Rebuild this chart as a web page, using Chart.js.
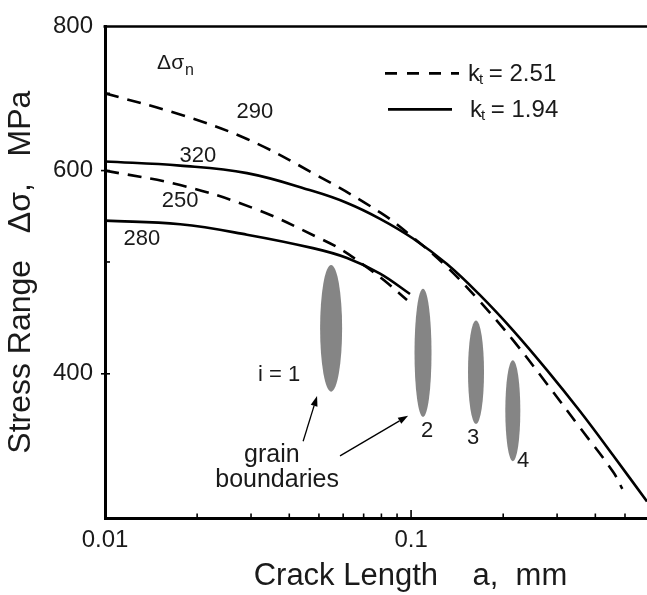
<!DOCTYPE html>
<html>
<head>
<meta charset="utf-8">
<script src="https://cdn.jsdelivr.net/npm/chart.js@4.4.1/dist/chart.umd.min.js"></script>
<style>
html,body{margin:0;padding:0;background:#fff;}
#wrap{width:647px;height:595px;}
</style>
</head>
<body>
<div id="wrap"><canvas id="c" width="647" height="595"></canvas></div>
<script>
// ---------- data ----------
const xTickValues = [0.01,0.02,0.03,0.04,0.05,0.06,0.07,0.08,0.09,0.1,0.2,0.3,0.4,0.5];
const xTickLabels = [0.01, 0.1];
const yTickValues = [300,400,500,600,700,800];
const yTickLabels = [400, 600, 800];

// kt = 2.51, Δσn = 290 (dashed)
const crack_kt251_290  = [0.01,0.0176,0.0291,0.0478,0.0792,0.1015,0.131,0.168,0.215,0.278,0.357,0.457,0.49];
const stress_kt251_290 = [700, 671, 639, 597, 552, 525, 495, 462, 428, 392, 359, 329, 318];
// kt = 1.94, Δσn = 320 (solid)
const crack_kt194_320  = [0.01,0.0176,0.0291,0.0478,0.0618,0.0792,0.1015,0.131,0.168,0.215,0.278,0.357,0.457,0.590];
const stress_kt194_320 = [611, 606, 597, 576, 562.5, 545, 524, 498, 468, 436.5, 403, 371, 340, 310];
// kt = 2.51, Δσn = 250 (dashed)
const crack_kt251_250  = [0.01,0.0176,0.0309,0.0504,0.0595,0.0707,0.0816,0.097];
const stress_kt251_250 = [600, 583, 556, 524, 512, 496, 482, 463.5];
// kt = 1.94, Δσn = 280 (solid)
const crack_kt194_280  = [0.01,0.0176,0.0291,0.0478,0.0618,0.0792,0.0992];
const stress_kt194_280 = [543, 539, 528, 514, 504, 488.5, 469];

// grain boundaries i = 1..4 : crack length, stress top, stress bottom
const grainCrack     = [0.0548, 0.1094, 0.163, 0.215];
const grainStressTop = [497, 474, 445, 411];
const grainStressBot = [386, 367, 362, 336];
const grainNames     = ['i = 1', '2', '3', '4'];

// ---------- styling ----------
const FONT = "'Liberation Sans', Arial, Helvetica, sans-serif";
const INK = '#1a1a1a';
const grainWidthsPx = [22, 17, 16, 15];
const DASH = [14, 9];

function pts(xs, ys){ return xs.map((x,i)=>({x:x, y:ys[i]})); }
function near(v, list){ return list.some(t => Math.abs(t - v) / t < 1e-6); }

const lineBase = { showLine:true, pointRadius:0, borderColor:'#000', borderWidth:2.6,
                   fill:false, tension:0.4 };

const datasets = [
  Object.assign({}, lineBase, { label:'kt=2.51 (290)', data: pts(crack_kt251_290, stress_kt251_290), borderDash: DASH }),
  Object.assign({}, lineBase, { label:'kt=1.94 (320)', data: pts(crack_kt194_320, stress_kt194_320) }),
  Object.assign({}, lineBase, { label:'kt=2.51 (250)', data: pts(crack_kt251_250, stress_kt251_250), borderDash: DASH }),
  Object.assign({}, lineBase, { label:'kt=1.94 (280)', data: pts(crack_kt194_280, stress_kt194_280) })
];

// annotation anchors in data coordinates
const curveLabels = [
  { text:'290', a:0.0309, s:675 },
  { text:'320', a:0.0201, s:618 },
  { text:'250', a:0.0176, s:565 },
  { text:'280', a:0.0132, s:524 }
];
const grainLabelPos = [
  { a:0.0434, s:399, align:'right' },
  { a:0.1128, s:357, align:'center' },
  { a:0.1595, s:352, align:'center' },
  { a:0.2323, s:336, align:'center' }
];
const arrows = [
  { a0:0.0444, s0:349.6, a1:0.0493, s1:382.6 },
  { a0:0.0586, s0:339.6, a1:0.0978, s1:367.9 }
];

const decor = {
  id:'decor',
  beforeDatasetsDraw(chart){
    const ctx = chart.ctx, X = chart.scales.x, Y = chart.scales.y;
    ctx.save();
    ctx.fillStyle = '#858585';
    grainCrack.forEach((a,i)=>{
      const cx = X.getPixelForValue(a);
      const yt = Y.getPixelForValue(grainStressTop[i]);
      const yb = Y.getPixelForValue(grainStressBot[i]);
      ctx.beginPath();
      ctx.ellipse(cx, (yt+yb)/2, grainWidthsPx[i]/2, (yb-yt)/2, 0, 0, Math.PI*2);
      ctx.fill();
    });
    ctx.restore();
  },
  afterDraw(chart){
    const ctx = chart.ctx, X = chart.scales.x, Y = chart.scales.y, ca = chart.chartArea;
    ctx.save();
    // top frame line
    ctx.strokeStyle = '#000'; ctx.lineWidth = 2.5;
    ctx.beginPath(); ctx.moveTo(ca.left-1.5, ca.top); ctx.lineTo(ca.right, ca.top); ctx.stroke();
    // inward ticks
    ctx.lineWidth = 1.6;
    xTickValues.forEach(v=>{
      const px = X.getPixelForValue(v);
      if (px <= ca.left + 2) return;
      const len = near(v, xTickLabels) ? 8 : 4.5;
      ctx.beginPath(); ctx.moveTo(px, ca.bottom); ctx.lineTo(px, ca.bottom - len); ctx.stroke();
    });
    yTickValues.forEach(v=>{
      const py = Y.getPixelForValue(v);
      if (py >= ca.bottom - 2 || py <= ca.top + 2) return;
      ctx.beginPath();
      if (near(v, yTickLabels)) { ctx.moveTo(ca.left-4, py); ctx.lineTo(ca.left+5, py); }
      else { ctx.moveTo(ca.left, py); ctx.lineTo(ca.left+5, py); }
      ctx.stroke();
    });
    // text helpers
    ctx.fillStyle = INK;
    ctx.textBaseline = 'middle';
    function txt(t, a, s, size, align){
      ctx.font = size + 'px ' + FONT;
      ctx.textAlign = align || 'center';
      ctx.fillText(t, X.getPixelForValue(a), Y.getPixelForValue(s));
    }
    curveLabels.forEach(l => txt(l.text, l.a, l.s, 22));
    grainNames.forEach((n,i)=> txt(n, grainLabelPos[i].a, grainLabelPos[i].s, 22, grainLabelPos[i].align));
    txt('grain', 0.0351, 340, 25);
    txt('boundaries', 0.0365, 323.4, 25);
    // Δσn
    ctx.textBaseline = 'alphabetic'; ctx.textAlign = 'left';
    const dx = X.getPixelForValue(0.0148), dy = Y.getPixelForValue(735);
    ctx.font = '21px ' + FONT; ctx.fillText('Δσ', dx, dy);
    const w = ctx.measureText('Δσ').width;
    ctx.font = '16px ' + FONT; ctx.fillText('n', dx + w + 1, dy + 6);
    // arrows
    ctx.strokeStyle = '#000'; ctx.fillStyle = '#000'; ctx.lineWidth = 1.3;
    arrows.forEach(ar=>{
      const x0 = X.getPixelForValue(ar.a0), y0 = Y.getPixelForValue(ar.s0);
      const x1 = X.getPixelForValue(ar.a1), y1 = Y.getPixelForValue(ar.s1);
      const ang = Math.atan2(y1-y0, x1-x0), L = 10, W = 3.5;
      const bx = x1 - L*Math.cos(ang), by = y1 - L*Math.sin(ang);
      ctx.beginPath(); ctx.moveTo(x0,y0); ctx.lineTo(bx,by); ctx.stroke();
      ctx.beginPath(); ctx.moveTo(x1,y1);
      ctx.lineTo(bx + W*Math.sin(ang), by - W*Math.cos(ang));
      ctx.lineTo(bx - W*Math.sin(ang), by + W*Math.cos(ang));
      ctx.closePath(); ctx.fill();
    });
    // legend
    const lx = ca.left + 280, ly1 = ca.top + 47, ly2 = ca.top + 83;
    ctx.lineWidth = 2.6; ctx.strokeStyle = '#000';
    ctx.setLineDash([12, 10]);
    ctx.beginPath(); ctx.moveTo(lx, ly1); ctx.lineTo(lx + 74, ly1); ctx.stroke();
    ctx.setLineDash([]);
    ctx.beginPath(); ctx.moveTo(lx + 3, ly2); ctx.lineTo(lx + 67, ly2); ctx.stroke();
    ctx.fillStyle = INK;
    function kt(x, y, val){
      ctx.textAlign = 'left'; ctx.textBaseline = 'alphabetic';
      ctx.font = '24px ' + FONT; ctx.fillText('k', x, y + 8);
      const kw = ctx.measureText('k').width;
      ctx.font = '15px ' + FONT; ctx.fillText('t', x + kw - 1, y + 11);
      const tw = ctx.measureText('t').width;
      ctx.font = '24px ' + FONT; ctx.fillText(' = ' + val, x + kw + tw - 2, y + 8);
    }
    kt(lx + 83, ly1, '2.51');
    kt(lx + 85, ly2, '1.94');
    ctx.restore();
  }
};

new Chart(document.getElementById('c'), {
  type: 'scatter',
  data: { datasets },
  plugins: [decor],
  options: {
    responsive: false,
    animation: false,
    devicePixelRatio: 1,
    layout: { padding: { top: 20, left: 0, right: 0, bottom: 0 } },
    plugins: { legend: { display: false }, tooltip: { enabled: false } },
    scales: {
      x: {
        type: 'logarithmic', position: 'bottom', min: 0.01, max: 0.59,
        afterBuildTicks: s => { s.ticks = xTickValues.map(v => ({ value: v })); },
        afterFit: s => { s.height = 77; },
        grid: { display: false, drawTicks: false },
        border: { display: true, color: '#000', width: 3 },
        ticks: {
          autoSkip: false, maxRotation: 0, minRotation: 0, padding: 8, color: INK,
          font: { size: 24, family: FONT },
          callback: v => near(v, xTickLabels) ? String(v) : ''
        },
        title: { display: true, text: '        Crack Length    a,  mm', color: INK,
                 font: { size: 31, family: FONT }, padding: { top: 0, bottom: 0 } }
      },
      y: {
        type: 'logarithmic', position: 'left', min: 300, max: 800,
        afterBuildTicks: s => { s.ticks = yTickValues.map(v => ({ value: v })); },
        afterFit: s => { s.width = 105; },
        grid: { display: false, drawTicks: false },
        border: { display: true, color: '#000', width: 3 },
        ticks: {
          autoSkip: false, padding: 12, color: INK,
          font: { size: 24, family: FONT },
          callback: v => near(v, yTickLabels) ? String(v) : ''
        },
        title: { display: true, text: 'Stress Range   Δσ,   MPa', color: INK,
                 font: { size: 32, family: FONT }, padding: { top: 2, bottom: 0 } }
      }
    }
  }
});
</script>
</body>
</html>
